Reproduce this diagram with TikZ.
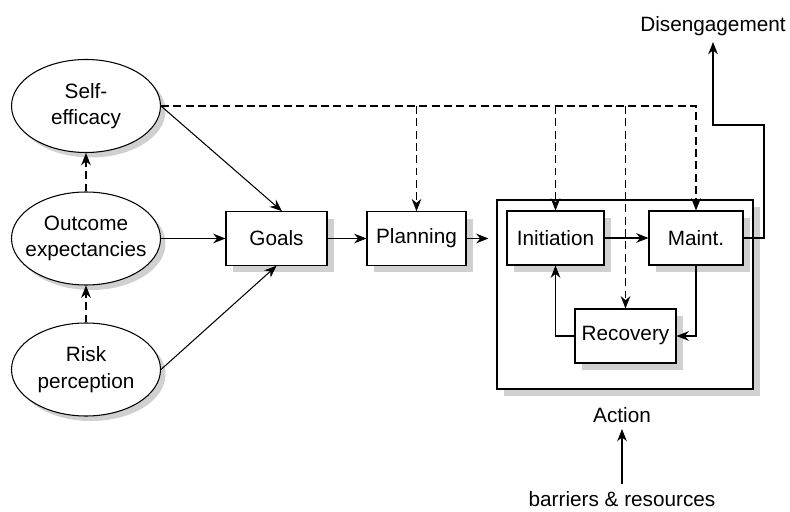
\documentclass[tikz,border=0pt]{standalone}
\usepackage{fontspec}
\setmainfont{Liberation Sans}
\usetikzlibrary{arrows.meta,shapes.geometric,shadows}
\definecolor{ShadowGray}{RGB}{208,208,208}

\begin{document}
\begin{tikzpicture}[
    font=\fontsize{11.8}{15}\selectfont,
    line width=0.6pt,
    >={Stealth[length=7pt,width=5.5pt]},
    factor/.style={ellipse, draw, fill=white, align=center,
        inner xsep=-0.2cm, inner ysep=0pt,
        minimum width=2.98cm, minimum height=1.86cm,
        drop shadow={shadow xshift=0.1cm, shadow yshift=-0.1cm, fill=ShadowGray, opacity=1}},
    stage/.style={rectangle, draw, fill=white, minimum height=1.07cm,
        drop shadow={shadow xshift=0.14cm, shadow yshift=-0.14cm, fill=ShadowGray, opacity=1}},
    influence/.style={->, dash pattern=on 4.5pt off 2.5pt}
]
    \useasboundingbox (0,0) rectangle (15.8,10.22);
    % Action frame behind the three phases
    \node[stage, minimum width=5.12cm, minimum height=3.78cm] (action) at (12.5,4.33) {};
    % Motivational factors
    \node[factor] (selfeff) at (1.72,8.1) {Self-\\efficacy};
    \node[factor] (outcome) at (1.72,5.45) {Outcome\\expectancies};
    \node[factor] (risk) at (1.72,2.83) {Risk\\perception};
    % Goal setting and planning
    \node[stage, minimum width=2.02cm] (goals) at (5.53,5.45) {Goals};
    \node[stage, minimum width=1.98cm] (planning) at (8.33,5.45) {Planning};
    % Phases inside the action frame
    \node[stage, minimum width=1.94cm, minimum height=1.08cm] (initiation) at (11.11,5.46) {Initiation};
    \node[stage, minimum width=1.88cm, minimum height=1.08cm] (maint) at (13.92,5.46) {Maint.};
    \node[stage, minimum width=2.02cm, minimum height=1.08cm] (recovery) at (12.51,3.5) {Recovery};
    % Free labels
    \node (diseng) at (14.26,9.7) {Disengagement};
    \node (actlabel) at (12.44,1.92) {Action};
    \node[inner sep=1pt] (barriers) at (12.44,0.24) {barriers \& resources};
    \coordinate (exitturn) at (15.28,7.72);
    % Solid paths
    \draw[->] (selfeff.east) -- ([xshift=0.11cm]goals.north);
    \draw[->] (outcome.east) -- (goals.west);
    \draw[->] (risk.east) -- (goals.south);
    \draw[->] (goals) -- (planning);
    \draw[->, shorten >=0.16cm] (planning.east) -- (planning.east -| action.west);
    \draw[->] (initiation) -- (maint);
    \draw[->] (maint.south) |- (recovery.east);
    \draw[->] (recovery.west) -| (initiation.south);
    \draw[->] (maint.east) -| (exitturn) -| (diseng.south);
    \draw[->, shorten <=0.1cm] (barriers) -- (actlabel);
    % Dashed influences
    \draw[influence] (outcome.north) -- (selfeff.south);
    \draw[influence] (risk.north) -- (outcome.south);
    \draw[influence] (selfeff.east) -| (maint.north);
    \draw[influence] (selfeff.east -| planning.north) -- (planning.north);
    \draw[influence] (selfeff.east -| initiation.north) -- (initiation.north);
    \draw[influence] (selfeff.east -| recovery.north) -- (recovery.north);
\end{tikzpicture}
\end{document}
